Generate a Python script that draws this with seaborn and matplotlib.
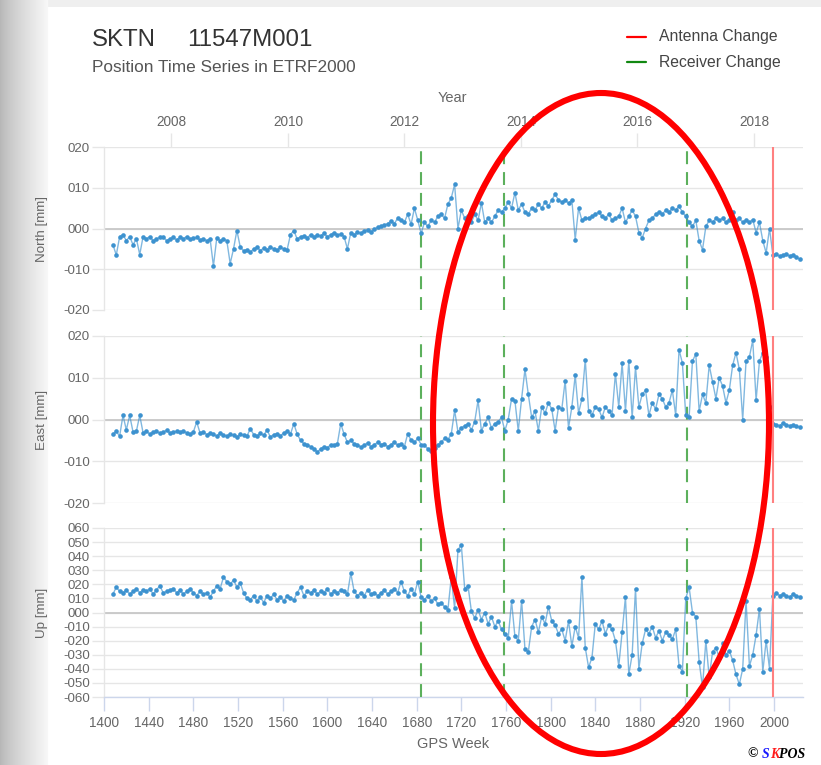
import numpy as np
import pandas as pd
import matplotlib
matplotlib.use("Agg")
import matplotlib.pyplot as plt
import seaborn as sns
from matplotlib.patches import Ellipse
from matplotlib.lines import Line2D

# ---------------- data ----------------
weeks = list(range(1408, 2024, 3))

north = [
    -4, -6.5, -2, -1.5, -3, -2, -4, -2.5, -6.4, -2,
    -2.5, -2, -3, -2.5, -2.2, -2, -3, -2.5, -2.2, -2.8,
    -2.2, -2.5, -2, -2.6, -2.4, -2.2, -2.8, -2.5, -3, -2.5,
    -9.2, -2.3, -3, -2.5, -3, -8.6, -5, -0.5, -4.5, -5.5,
    -5.2, -5.8, -5, -4.6, -5.4, -4.8, -5.2, -4.5, -5, -5.3,
    -4.6, -5, -5.2, -1.5, -0.5, -2.6, -2, -1.8, -2.3, -1.5,
    -2, -1.6, -1.8, -1.2, -2, -1.5, -1, -1.7, -1.3, -2,
    -5, -1, -1.5, -0.8, -1.2, -0.6, -0.3, -0.8, -0.2, 0.3,
    0.5, 0.8, 1.2, 1.8, 1.2, 2.5, 2, 1.5, 3.5, 1,
    5, 2, -1.2, 1.5, 0.5, 2, 1.5, 3, 3.5, 2.5,
    6, 7.5, 10.8, 0, 4.5, 2.5, 3, 1.5, 3.5, 2,
    6.3, 1.5, 2.5, 1.5, 3, 4.5, 4, 5, 6.5, 5,
    8.8, 4.5, 6, 4, 3.5, 5, 4.5, 6, 5, 6.5,
    5.5, 7, 8.4, 7, 6.5, 7, 6.2, 7, -2.7, 5,
    2, 2.5, 2.5, 3, 3.5, 4, 3, 2.5, 3.5, 2,
    2.5, 3, 5, 1.5, 3, 4.5, 3, -1, -2.3, 0,
    2, 2.5, 3.5, 4, 3.5, 4.5, 4, 5, 4.5, 5.5,
    4, 3, 1.5, 0.5, 2, -3, -5.2, 0.5, 2, 1.5,
    2.5, 2, 2.5, 1.5, 2, 4, 2, 2.5, 1.5, 2,
    1.5, 2.2, -1, 1.5, -3, -6, 0, -6.5, -6.3, -6.8,
    -6.5, -6.2, -6.8, -6.4, -7, -7.5,
]

east = [
    -3.5, -2.8, -4, 1, -2.5, 1, -3, -2.8, 1, -3.2,
    -2.8, -3.5, -3, -2.8, -3.3, -3, -2.6, -3.2, -3, -2.8,
    -3, -2.7, -3.2, -3.5, -3, -0.6, -3.2, -3, -3.6, -3.3,
    -3.5, -4, -3.2, -3.7, -4, -3.5, -3.8, -4.2, -3.5, -3.8,
    -4, -2.2, -3.6, -4, -3.3, -3.8, -2.5, -4.2, -3.6, -3.4,
    -3.9, -3.2, -2.8, -3.5, -1, -3.5, -5, -5.8, -6, -6.5,
    -7, -7.8, -7, -6.5, -6.8, -6, -6.2, -5.8, -1, -3.5,
    -5.5, -5, -5.8, -6, -6.6, -6.2, -5.6, -6.5, -6, -5.5,
    -6, -5.8, -6.5, -6, -5.4, -6.2, -5.8, -6.5, -3.4, -5,
    -5.5, -4.5, -6, -6.2, -7, -7.5, -6.8, -6, -5.5, -4.5,
    -4.8, -3.5, 2.2, -3, -2, -1.5, -1, -2.5, -0.5, 4.6,
    -2.7, -1, 0.5, -2, -1, -0.5, 0.5, -2.7, 0, 5,
    4.5, -2.7, 5, 12, 6, 0.5, 2, -2.7, 3, 1.5,
    4, 2.5, -2.7, 3, 2.5, 9.3, -2, 3, 10.6, 1.5,
    5, 14.3, 2, 1, 3, 2.5, 0.5, 3, 2, 1,
    11, 3, 13.5, 2, 14, 0.5, 12.5, 3, 6, 7,
    1, 4, 2.5, 6, 5, 3, 4, 7, 1, 16.7,
    13.5, 1, 0.5, 14, 15.7, 2, 6, 4, 13, 9,
    5, 10, 8, 4, 7, 13, 16, 12, 0, 14,
    15, 19, 4.6, 14, 16, 15, 3, -1, -1.2, -1.5,
    -0.8, -1.2, -1.5, -1.3, -1.6, -1.8,
]

up = [
    13, 18, 15, 14, 16, 13, 15, 17, 14, 16,
    15, 17, 13, 16, 19, 14, 15, 16, 17, 14,
    16, 13, 15, 17, 14, 12, 15, 13, 14, 11,
    15, 19, 17, 25, 22, 20, 23, 18, 21, 14,
    10, 9, 12, 8, 11, 7, 12, 10, 13, 9,
    11, 8, 12, 10, 9, 14, 18, 12, 15, 14,
    16, 13, 15, 14, 17, 13, 15, 14, 16, 15,
    13, 28, 15, 12, 14, 12, 16, 13, 14, 12,
    14, 16, 13, 15, 17, 14, 22, 15, 12, 17,
    13, 22, 11, 9, 12, 8, 10, 6, 7, 4,
    2, 25, 3, 44.5, 48, 17, 19, 1, -4, 2,
    -5, 0, -8, -3, -10, -6, -12, -15, -18, 8,
    -17, -20, 8.5, -26, -28, -10, -5, -14, -3, -8,
    4, -6, -9, -15, -12, -20, -6, -24, -10, -18,
    25, -25, -39, -32, -8, -12, -6, -15, -9, -12,
    -20, -38, -14, 11, -44, -30, 17, -40, -22, -12,
    -15, -10, -18, -13, -20, -14, -16, -19, -12, -38,
    -42, 10, 18, 0, -3, -35, -53, -20, -46, -28,
    -25, -32, -22, -30, -27, -34, -44, -51, -40, 8.5,
    -38, -30, -16, 2.6, -42, -20, -40, 12, 14, 12,
    13, 12, 11, 13, 12, 11,
]

receiver_change_weeks = [1684, 1758, 1922]
antenna_change_weeks = [1999]
year_labels = [2008, 2010, 2012, 2014, 2016, 2018]
gps_week_ticks = list(range(1400, 2001, 40))

# ---------------- style ----------------
sns.set_theme(style="white")
plt.rcParams['font.family'] = ['Liberation Sans', 'DejaVu Sans']

W, H = 821, 765
fig = plt.figure(figsize=(W / 100, H / 100), dpi=100)
fig.patch.set_facecolor('white')


def fx(px):
    return px / W


def fy(py):
    return 1 - py / H


# screenshot-like frame on the left / top
bg = np.ones((H, W, 3))
for x in range(48):
    v = 0.72 + 0.25 * (x / 47.0) ** 0.8
    bg[:, x, :] = v
bg[:7, 48:, :] = 0.94
bg_ax = fig.add_axes([0, 0, 1, 1], zorder=-10)
bg_ax.imshow(bg, aspect='auto', extent=[0, 1, 0, 1], interpolation='bilinear')
bg_ax.axis('off')

BLUE = '#3d92cf'
GRID = '#e6e6e6'
LABEL = '#666666'

XL, XR = 104, 803
XMIN, XMAX = 1400, 2026

panels = [
    ("North [mm]", north, 147, 310, (-20, 20), list(range(-20, 21, 10))),
    ("East [mm]", east, 336, 503, (-20, 20), list(range(-20, 21, 10))),
    ("Up [mm]", up, 528, 697, (-60, 60), list(range(-60, 61, 10))),
]


def fmt(v):
    return f"{v:03d}" if v >= 0 else f"-{abs(v):03d}"


axes = []
for i, (lab, vals, top, bot, ylim, yt) in enumerate(panels):
    ax = fig.add_axes([fx(XL), fy(bot), (XR - XL) / W, (bot - top) / H])
    ax.set_facecolor('none')
    df = pd.DataFrame({"week": weeks, "value": vals})
    sns.lineplot(data=df, x="week", y="value", ax=ax, color=BLUE,
                 linewidth=1.0, alpha=0.65, sort=False, zorder=4)
    sns.scatterplot(data=df, x="week", y="value", ax=ax, color=BLUE,
                    s=11, linewidth=0, zorder=5)
    for w in receiver_change_weeks:
        ax.axvline(w, color='#5cb05c', lw=1.5, ls=(0, (6.2, 3.8)), zorder=3)
    for w in antenna_change_weeks:
        ax.axvline(w, color='#ff8080', lw=1.5, zorder=6)
    ax.axhline(0, color='#c8c8c8', lw=1.3, zorder=2)
    ax.set_xlim(XMIN, XMAX)
    ax.set_ylim(*ylim)
    ax.set_yticks(yt)
    ax.set_yticklabels([fmt(v) for v in yt])
    ax.grid(axis='y', color=GRID, lw=1.0, zorder=1)
    ax.grid(axis='x', visible=False)
    for s in ['top', 'right', 'bottom']:
        ax.spines[s].set_visible(False)
    ax.spines['left'].set_color(GRID)
    ax.spines['left'].set_linewidth(1.0)
    ax.tick_params(axis='y', length=9, width=1, color=GRID, labelsize=9.6,
                   labelcolor=LABEL, pad=1, left=True)
    ax.set_xlabel("")
    ax.set_ylabel("")
    fig.text(fx(42), fy((top + bot) / 2), lab, rotation=90, ha='center',
             va='center', fontsize=9.6, color=LABEL)
    if i < 2:
        ax.set_xticks([])
    else:
        ax.set_xticks(gps_week_ticks)
        ax.set_xticklabels([str(t) for t in gps_week_ticks])
        ax.spines['bottom'].set_visible(True)
        ax.spines['bottom'].set_color('#ccd6eb')
        ax.spines['bottom'].set_linewidth(1.0)
        ax.tick_params(axis='x', bottom=True, length=10, width=1,
                       color='#ccd6eb', labelsize=9.8, labelcolor=LABEL, pad=4)
    axes.append(ax)

# top year axis
axn = axes[0]
axt = axn.twiny()
axt.set_xlim(XMIN, XMAX)
year_weeks = [(np.datetime64(f"{y}-01-01") - np.datetime64("1980-01-06")).astype(int) / 7.0
              for y in year_labels]
axt.set_xticks(year_weeks)
axt.set_xticklabels([str(y) for y in year_labels])
axt.tick_params(axis='x', top=True, bottom=False, length=10, width=1, color=GRID,
                labelsize=9.8, labelcolor=LABEL, pad=3)
for s in axt.spines.values():
    s.set_visible(False)
axt.grid(False)

fig.text(fx(452), fy(98), "Year", ha='center', va='center', fontsize=10.5, color=LABEL)
fig.text(fx(453), fy(744), "GPS Week", ha='center', va='center', fontsize=10.5, color=LABEL)

# titles
fig.text(fx(92), fy(40), "SKTN", ha='left', va='center', fontsize=17.3, color='#333333')
fig.text(fx(187), fy(40), "11547M001", ha='left', va='center', fontsize=17.3, color='#333333')
fig.text(fx(92), fy(68), "Position Time Series in ETRF2000", ha='left', va='center',
         fontsize=12.4, color='#555555')

# legend
for yy, col, txt in [(37, '#ff0000', "Antenna Change"), (62, '#118811', "Receiver Change")]:
    fig.add_artist(Line2D([fx(627), fx(646)], [fy(yy), fy(yy)], transform=fig.transFigure,
                          color=col, lw=1.6))
    fig.text(fx(659), fy(yy), txt, ha='left', va='center', fontsize=11.3, color='#444444')

# copyright
cfont = dict(family='Liberation Serif', weight='bold', style='italic', fontsize=10, va='center')
fig.text(fx(747), fy(754), "\u00a9", color='black', ha='left', **cfont)
fig.text(fx(762), fy(754), "S", color='#1a1aff', ha='left', **cfont)
fig.text(fx(770), fy(754), "K", color='#ff1a1a', ha='left', **cfont)
fig.text(fx(779), fy(754), "POS", color='black', ha='left', **cfont)

# red annotation ellipse
ell = Ellipse((fx(601), fy(423.5)), width=336 / W, height=661 / H,
              transform=fig.transFigure, fill=False, edgecolor='#ff0000',
              lw=4.4, zorder=20)
fig.add_artist(ell)

fig.savefig("out.png", dpi=100)
